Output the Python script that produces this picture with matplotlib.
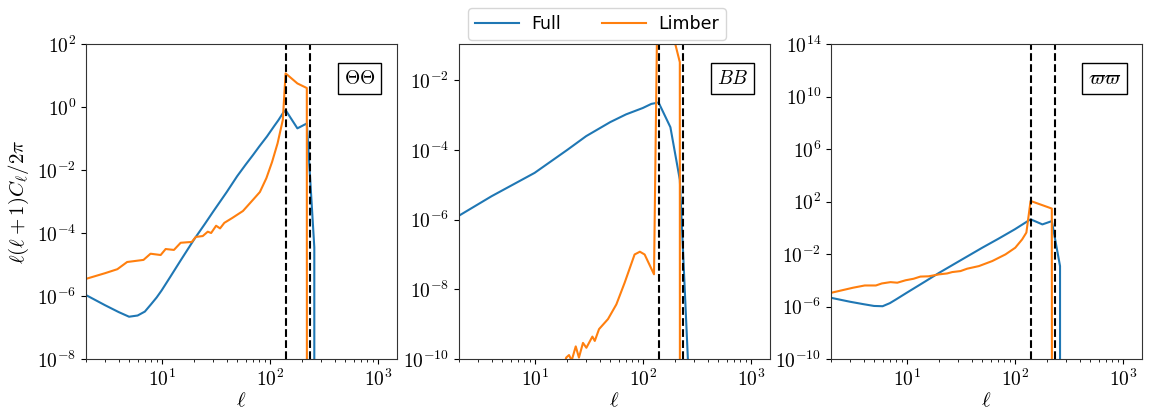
import numpy as np
import matplotlib
matplotlib.use("Agg")
import matplotlib.pyplot as plt
from matplotlib.ticker import FuncFormatter, NullLocator, FixedLocator

plt.rcParams['mathtext.fontset'] = 'cm'
plt.rcParams['font.family'] = ['DejaVu Sans']

# ---------------- data ----------------
# Panel 1: Theta-Theta
ell_tt_full = [2, 3, 4, 5, 6, 7, 8, 9, 10, 12, 15, 20, 25, 30, 40, 50, 60, 70, 80, 94,
               110, 120, 132, 140, 180, 220, 258, 265]
cl_tt_full = [1.07e-6, 5.1e-7, 3.1e-7, 2.2e-7, 2.4e-7, 3.2e-7, 5.5e-7, 9e-7, 1.5e-6, 4e-6,
              1.35e-5, 6.3e-5, 1.9e-4, 4.8e-4, 2e-3, 6.4e-3, 1.5e-2, 3e-2, 5.6e-2, 0.115,
              0.25, 0.38, 0.63, 0.8, 0.21, 0.3, 3.5e-5, 0.0]
ell_tt_limb = [2, 3, 3.9, 4.8, 6.8, 7.9, 9.8, 10.9, 13, 15, 19, 20.7, 24, 26.7, 28.7, 31.9,
               34.7, 38, 45, 56.5, 71, 81, 93, 105, 118, 132, 140, 180, 220, 260]
cl_tt_limb = [3.5e-6, 5.3e-6, 7.1e-6, 1.2e-5, 1.4e-5, 2.2e-5, 2e-5, 3.1e-5, 2.9e-5, 4.9e-5,
              5.2e-5, 7.5e-5, 8e-5, 1.1e-4, 1e-4, 1.7e-4, 1.4e-4, 2.1e-4, 3e-4, 5e-4,
              1.2e-3, 2e-3, 5.5e-3, 1.8e-2, 7e-2, 0.39, 11.7, 5.6, 4.0, 0.0]

# Panel 2: B-B
ell_bb_full = [2, 4, 10, 20, 30, 50, 70, 100, 120, 140, 180, 220, 262]
cl_bb_full = [1.3e-6, 4.7e-6, 2.2e-5, 1e-4, 2.5e-4, 6.3e-4, 1.05e-3, 1.6e-3, 2.1e-3, 2.3e-3,
              4.5e-4, 1.4e-5, 8e-11]
ell_bb_limb = [15, 18.5, 19.6, 20.8, 22, 24, 25.7, 28, 30.1, 34.2, 36, 39.4, 47.7, 57, 68,
               84, 94, 104, 127, 140, 180, 220, 260]
cl_bb_limb = [1e-12, 6e-11, 1.1e-10, 1.3e-10, 9e-11, 2.3e-10, 1.1e-10, 2.9e-10, 2.1e-10,
              4.4e-10, 3.3e-10, 7.2e-10, 1.4e-9, 3.7e-9, 1.55e-8, 1e-7, 1.2e-7, 1e-7,
              2.7e-8, 1e3, 0.4, 0.033, 0.0]

# Panel 3: varpi-varpi
ell_ww_full = [2, 3, 4, 5, 6, 7, 8, 10, 15, 20, 30, 50, 70, 100, 140, 180, 220, 262, 268]
cl_ww_full = [4.6e-6, 2.3e-6, 1.5e-6, 1.1e-6, 1.05e-6, 1.8e-6, 3.5e-6, 1.1e-5, 8.5e-5, 3.7e-4,
              2.6e-3, 0.03, 0.14, 0.76, 4.4, 1.8, 3.2, 1.2e-3, 0.0]
ell_ww_limb = [2, 3.2, 4.1, 5.2, 5.9, 7.1, 8.2, 9.8, 11.6, 13.4, 16, 19.9, 23.7, 26.4, 31.5,
               36.3, 46.6, 61.9, 82, 101, 117, 128, 140, 220, 260]
cl_ww_limb = [1.1e-5, 2.7e-5, 4e-5, 4e-5, 5.7e-5, 7.2e-5, 6.5e-5, 1e-4, 1.3e-4, 1.9e-4, 2e-4,
              2.8e-4, 3.3e-4, 4.2e-4, 5e-4, 7.6e-4, 1.2e-3, 2.9e-3, 9.3e-3, 0.03, 0.13, 0.43,
              110, 29, 0.0]

ell_cuts = [140, 235]
panel_labels = [r'$\Theta\Theta$', r'$BB$', r'$\varpi\varpi$']
ylims = [(1e-8, 1e2), (1e-10, 1.1e-1), (1e-10, 1e14)]
yticks = [[1e-8, 1e-6, 1e-4, 1e-2, 1e0, 1e2],
          [1e-10, 1e-8, 1e-6, 1e-4, 1e-2],
          [1e-10, 1e-6, 1e-2, 1e2, 1e6, 1e10, 1e14]]
xlim = (2, 1500)

series = [
    (ell_tt_full, cl_tt_full, ell_tt_limb, cl_tt_limb),
    (ell_bb_full, cl_bb_full, ell_bb_limb, cl_bb_limb),
    (ell_ww_full, cl_ww_full, ell_ww_limb, cl_ww_limb),
]

# ---------------- figure ----------------
fig = plt.figure(figsize=(11.51, 4.09), dpi=100)
lefts = [86/1151, 459/1151, 831/1151]
width = 311/1151
bottom = 1 - 359/409
height = 315/409

def sci(v, pos):
    e = int(np.round(np.log10(v)))
    return r'$10^{%d}$' % e

axes = []
for i in range(3):
    ax = fig.add_axes([lefts[i], bottom, width, height])
    axes.append(ax)
    ef, cf, el, cl = series[i]
    ax.set_xscale('log')
    ax.set_yscale('log')
    lf, = ax.plot(ef, cf, color='#1f77b4', lw=1.5, label='Full')
    ll, = ax.plot(el, cl, color='#ff7f0e', lw=1.5, label='Limber')
    for c in ell_cuts:
        ax.axvline(c, color='k', ls='--', lw=1.5)
    ax.set_xlim(*xlim)
    ax.set_ylim(*ylims[i])
    ax.yaxis.set_major_locator(FixedLocator(yticks[i]))
    ax.yaxis.set_minor_locator(NullLocator())
    ax.yaxis.set_major_formatter(FuncFormatter(sci))
    ax.xaxis.set_major_formatter(FuncFormatter(sci))
    ax.tick_params(labelsize=14)
    for s in ax.spines.values():
        s.set_edgecolor('#333333')
    ax.set_xlabel(r'$\ell$', fontsize=15, labelpad=0)
    ax.text(0.88, 0.89, panel_labels[i], transform=ax.transAxes, ha='center', va='center',
            fontsize=14,
            bbox=dict(boxstyle='square,pad=0.3', facecolor='white', edgecolor='black', lw=1.0))

axes[0].set_ylabel(r'$\ell(\ell+1)C_\ell/2\pi$', fontsize=15)

fig.legend([lf, ll], ['Full', 'Limber'], loc='center', bbox_to_anchor=(597/1151, 1 - 24/409),
           ncol=2, fontsize=12.5, handlelength=2.5, columnspacing=2.4, handletextpad=0.7)

fig.savefig('out.png', dpi=100)
